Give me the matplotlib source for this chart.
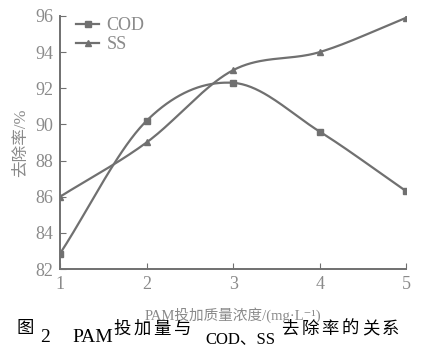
import numpy as np
import matplotlib.pyplot as plt
from matplotlib.lines import Line2D

# data
dose = [1, 2, 3, 4, 5]
cod = [82.85, 90.2, 92.3, 89.6, 86.3]
ss = [86.0, 89.0, 93.0, 94.0, 95.9]

fam = ["Liberation Serif", "Noto Sans CJK SC", "DejaVu Sans"]
plt.rcParams["font.family"] = fam
gray = "#707070"
txt = "#8a8a8a"


def smooth(x, y, n=40):
    # Catmull-Rom curve through the measured points
    x = np.asarray(x, float)
    y = np.asarray(y, float)
    px = np.r_[2 * x[0] - x[1], x, 2 * x[-1] - x[-2]]
    py = np.r_[2 * y[0] - y[1], y, 2 * y[-1] - y[-2]]
    xs, ys = [], []
    for i in range(1, len(px) - 2):
        t = np.linspace(0, 1, n)
        for p, out in ((px, xs), (py, ys)):
            p0, p1, p2, p3 = p[i - 1], p[i], p[i + 1], p[i + 2]
            out.extend(0.5 * (2 * p1 + (-p0 + p2) * t
                              + (2 * p0 - 5 * p1 + 4 * p2 - p3) * t ** 2
                              + (-p0 + 3 * p1 - 3 * p2 + p3) * t ** 3))
    return xs, ys


fig = plt.figure(figsize=(4.27, 3.54), dpi=100)
ax = fig.add_axes([0.1405, 0.24, 0.811, 0.715])

for vals, mk in ((cod, "s"), (ss, "^")):
    sx, sy = smooth(dose, vals)
    ax.plot(sx, sy, color=gray, lw=1.6)
    ax.plot(dose, vals, ls="none", marker=mk, ms=5, color=gray)

ax.set_xlim(1, 5)
ax.set_ylim(82, 96)
ax.set_xticks(dose)
ax.set_yticks(range(82, 97, 2))
for s in ("top", "right"):
    ax.spines[s].set_visible(False)
for s in ("left", "bottom"):
    ax.spines[s].set_color(gray)
    ax.spines[s].set_linewidth(1.4)
ax.tick_params(direction="in", length=4, color=gray, labelcolor=txt,
               labelsize=13, pad=5)
ax.set_ylabel("去除率/%", color=txt, fontsize=12, labelpad=4)
ax.set_xlabel("PAM投加质量浓度/(mg·L⁻¹)", color=txt, fontsize=10.5, labelpad=10)

handles = [Line2D([], [], color=gray, lw=1.6, marker="s", ms=4),
           Line2D([], [], color=gray, lw=1.6, marker="^", ms=5)]
ax.legend(handles, ["COD", "SS"], loc="upper left", frameon=False,
          fontsize=13, labelcolor=txt, handlelength=1.3, handletextpad=0.4,
          borderaxespad=0.1, labelspacing=0.1, bbox_to_anchor=(0.02, 1.03))

# caption with mixed baselines, CJK characters spaced out
W, H = 427, 354
latin = [("2", 40, 337, 14), ("PAM", 72, 338, 14), ("COD、SS", 205, 339, 12)]
cjk = [("图", 17, 329), ("投加量与", 113, 330), ("去除率的关系", 281, 330)]
for s, px, py, fs in latin:
    fig.text(px / W, 1 - py / H, s, fontsize=fs, color="black",
             ha="left", va="center")
for s, px, py in cjk:
    for i, ch in enumerate(s):
        fig.text((px + i * 20.2) / W, 1 - py / H, ch, fontsize=12.5,
                 color="black", ha="left", va="center")

fig.savefig("out.png", dpi=100)
